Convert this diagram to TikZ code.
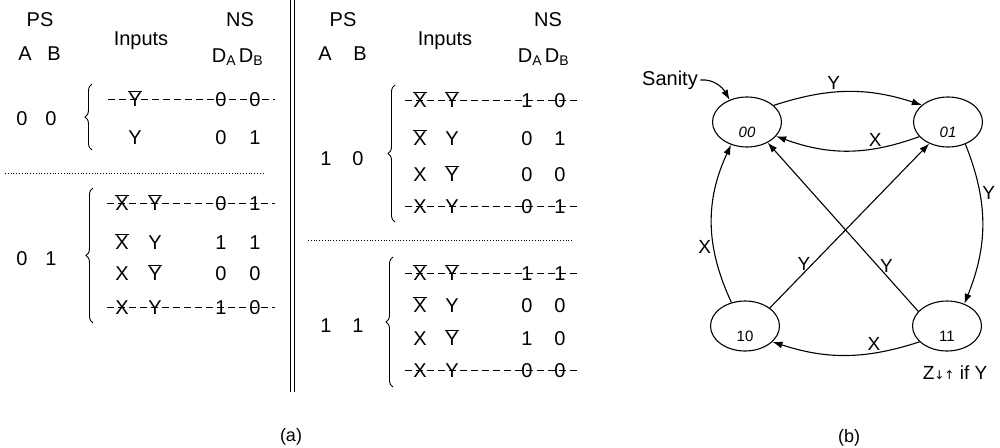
\documentclass[tikz,border=0pt]{standalone}
\usepackage{fontspec}
\setmainfont{Liberation Sans}
\newfontfamily\symfont{DejaVu Sans}
\usetikzlibrary{arrows.meta,positioning,shapes.geometric,decorations.pathreplacing}
\newcommand{\cmp}[1]{$\overline{\mbox{#1}}$}

\begin{document}
\begin{tikzpicture}[
  x=1pt, y=-1pt, line width=1.1pt,
  font=\fontsize{20}{24}\selectfont,
  cell/.style={inner sep=0pt, text height=14pt, text depth=0pt},
  strike/.style={dash pattern=on 7pt off 4pt, line width=0.9pt},
  grp/.style={decorate, decoration={brace, amplitude=7pt}, line width=0.9pt},
  sep/.style={dotted, line width=0.8pt},
  state/.style={draw, ellipse, minimum width=69pt, minimum height=50pt, inner sep=0pt,
    text height=30pt, text depth=0pt, font=\fontsize{15}{18}\selectfont},
  arr/.style={-{Latex[length=10pt, width=7pt]}},
  lbl/.style={font=\fontsize{19}{22}\selectfont, inner sep=2pt}
]
\useasboundingbox (0,0) rectangle (1000,447);

% (a) headers
\node[cell] (psL) at (40,19) {PS};
\node[cell] (aL) at (25,53) {A};
\node[cell] (bL) at (54,53) {B};
\node[cell] (inL) at (141,38) {Inputs};
\node[cell] (nsL) at (240,19) {NS};
\node[cell] (daL) at (224,55) {D\textsubscript{A}};
\node[cell] (dbL) at (251,55) {D\textsubscript{B}};
\node[cell] (psR) at (343,20) {PS};
\node[cell] (aR) at (325,53) {A};
\node[cell] (bR) at (360,53) {B};
\node[cell] (inR) at (445,38) {Inputs};
\node[cell] (nsR) at (548,20) {NS};
\node[cell] (daR) at (530,55) {D\textsubscript{A}};
\node[cell] (dbR) at (557,55) {D\textsubscript{B}};

% double rule between halves
\draw[line width=0.9pt] (290,0) -- (290,392);
\draw[line width=0.9pt] (294.5,0) -- (294.5,392);

% state 00
\node[cell] (pa00) at (22,118) {0};
\node[cell] (pb00) at (51,118) {0};
\draw[grp] (92,150) -- (92,84);
\foreach \r/\ry/\iy/\na/\nb in {1/99/\cmp{Y}/0/0, 2/137/Y/0/1}{
  \node[cell] (y00r\r) at (135,\ry) {\iy};
  \node[cell] (da00r\r) at (221,\ry) {\na};
  \node[cell] (db00r\r) at (255,\ry) {\nb};
}
\draw[strike] ([xshift=-20pt]y00r1.west) -- ([xshift=14pt]db00r1.east);
\draw[sep] (5,173) -- (265,173);

% state 01
\node[cell] (pa01) at (22,258) {0};
\node[cell] (pb01) at (51,258) {1};
\draw[grp] (93,323) -- (93,188);
\foreach \r/\ry/\ix/\iy/\na/\nb in {1/203/\cmp{X}/\cmp{Y}/0/1, 2/242/\cmp{X}/Y/1/1,
    3/273/X/\cmp{Y}/0/0, 4/307/X/Y/1/0}{
  \node[cell] (x01r\r) at (122,\ry) {\ix};
  \node[cell] (y01r\r) at (155,\ry) {\iy};
  \node[cell] (da01r\r) at (221,\ry) {\na};
  \node[cell] (db01r\r) at (255,\ry) {\nb};
}
\draw[strike] ([xshift=-8pt]x01r1.west) -- ([xshift=14pt]db01r1.east);
\draw[strike] ([xshift=-8pt]x01r4.west) -- ([xshift=14pt]db01r4.east);

% state 10
\node[cell] (pa10) at (326,158) {1};
\node[cell] (pb10) at (358,158) {0};
\draw[grp] (395,222) -- (395,85);
\foreach \r/\ry/\ix/\iy/\na/\nb in {1/100/\cmp{X}/\cmp{Y}/1/0, 2/138/\cmp{X}/Y/0/1,
    3/174/X/\cmp{Y}/0/0, 4/206/X/Y/0/1}{
  \node[cell] (x10r\r) at (420,\ry) {\ix};
  \node[cell] (y10r\r) at (452,\ry) {\iy};
  \node[cell] (da10r\r) at (527,\ry) {\na};
  \node[cell] (db10r\r) at (560,\ry) {\nb};
}
\draw[strike] ([xshift=-8pt]x10r1.west) -- ([xshift=14pt]db10r1.east);
\draw[strike] ([xshift=-8pt]x10r4.west) -- ([xshift=14pt]db10r4.east);
\draw[sep] (308,240) -- (573,240);

% state 11
\node[cell] (pa11) at (326,325) {1};
\node[cell] (pb11) at (358,325) {1};
\draw[grp] (393,387) -- (393,257);
\foreach \r/\ry/\ix/\iy/\na/\nb in {1/273/\cmp{X}/\cmp{Y}/1/1, 2/305/\cmp{X}/Y/0/0,
    3/338/X/\cmp{Y}/1/0, 4/370/X/Y/0/0}{
  \node[cell] (x11r\r) at (420,\ry) {\ix};
  \node[cell] (y11r\r) at (452,\ry) {\iy};
  \node[cell] (da11r\r) at (527,\ry) {\na};
  \node[cell] (db11r\r) at (560,\ry) {\nb};
}
\draw[strike] ([xshift=-8pt]x11r1.west) -- ([xshift=14pt]db11r1.east);
\draw[strike] ([xshift=-8pt]x11r4.west) -- ([xshift=14pt]db11r4.east);

\node[cell, font=\fontsize{18}{22}\selectfont] (capA) at (291,434) {(a)};

% (b) state diagram
\node[state] (s00) at (747,122) {\textit{00}};
\node[state] (s01) at (948,122) {\textit{01}};
\node[state] (s10) at (745,326) {10};
\node[state] (s11) at (947,326) {11};
\node[lbl, font=\fontsize{20}{24}\selectfont] (sanity) at (670,80) {Sanity};

\draw[arr] (sanity.east) to[out=5, in=120] (s00.128);
\draw[arr] (s00.32) to[out=18, in=162] node[lbl, above, pos=0.4] {Y} (s01.147);
\draw[arr] (s01.207) to[out=200, in=-20] node[lbl, above, pos=0.3] {X} (s00.334);
\draw[arr] (s11.210) to[out=198, in=-18] node[lbl, above, pos=0.3] {X} (s10.330);
\draw[arr] (s10.120) to[out=115, in=245] node[lbl, left, pos=0.35] {X} (s00.235);
\draw[arr] (s01.-52) to[out=-68, in=68] node[lbl, right, pos=0.3] {Y} (s11.52);
\draw[arr] (s11.153) -- node[lbl, right, pos=0.27] {Y} (s00.-45);
\draw[arr] (s10.36) -- node[lbl, left, pos=0.27] {Y} (s01.-131);

\node[cell, font=\fontsize{19}{22}\selectfont] (zout) at (955,372)
  {Z{\symfont\fontsize{12}{12}\selectfont ↓↑} if Y};
\node[cell, font=\fontsize{18}{22}\selectfont] (capB) at (849,435) {(b)};
\end{tikzpicture}
\end{document}
